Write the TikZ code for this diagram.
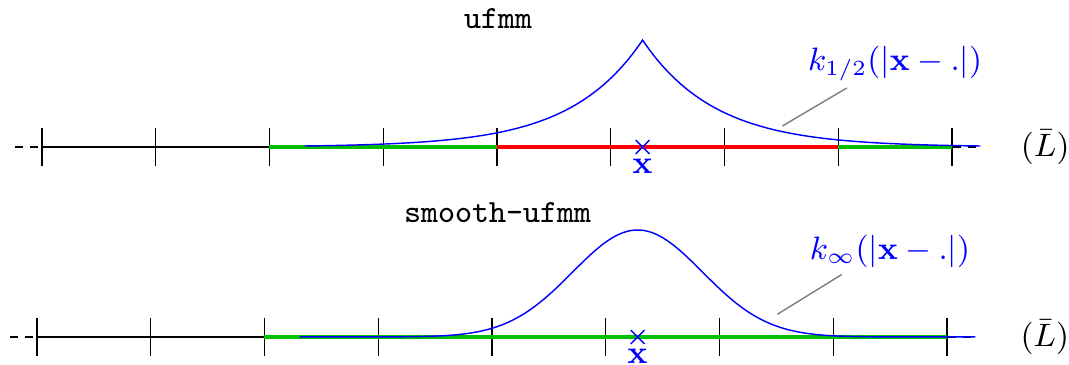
\documentclass[tikz,border=0pt]{standalone}
\usetikzlibrary{positioning,shapes.misc}

\definecolor{suppgreen}{RGB}{0,190,0}

\begin{document}
\begin{tikzpicture}[
      x=1.11cm, y=1.11cm,
      every node/.style={font=\small},
      axisline/.style={thin},
      axisdash/.style={thin, dash pattern=on 2.2pt off 2pt},
      tickmark/.style={thin},
      greenseg/.style={line width=1.2pt, suppgreen},
      redseg/.style={line width=1.2pt, red},
      kernel/.style={blue, thin},
      pinline/.style={gray, thin},
      point/.style={cross out, draw=blue, thin, minimum size=1.2mm, inner sep=0pt},
      pointlabel/.style={blue, inner sep=1pt},
      title/.style={font=\small\ttfamily},
      klabel/.style={blue}
]
\useasboundingbox (-0.369,-1.9165) rectangle (9.029,1.2923);

% ufmm
\coordinate (axstart) at (-0.237,0);
\coordinate (axend) at (8.25,0);
\draw[axisdash] (axstart) -- (axend);
\draw[axisline] (0,0) -- (8,0);
\foreach \i in {0,...,8}
  \draw[tickmark] (\i,-0.167) -- (\i,0.167);
\draw[greenseg] (2,0) -- (4,0);
\draw[redseg] (4,0) -- (7,0);
\draw[greenseg] (7,0) -- (8,0);
\draw[kernel] plot[domain=2.31:8.25, samples=241] (\x,{0.94*exp(-1.58*abs(\x-5.28))});
\node[point] (xtop) at (5.28,0) {};
\node[pointlabel, below=0.3pt of xtop] (xtoplab) {$\mathbf{x}$};
\node[title] (ufmm) at (4.01,1.13) {ufmm};
\node[klabel] (ktop) at (7.5,0.73) {$k_{1/2}(|\mathbf{x}-.|)$};
\coordinate (ktoppin) at (6.51,0.185);
\draw[pinline] ([xshift=-4.7mm, yshift=0.6mm]ktop.south) -- (ktoppin);
\node (ltop) at (8.82,0) {$(\bar{L})$};

% smooth-ufmm
\begin{scope}[shift={(-0.044,-1.670)}]
\coordinate (bxstart) at (-0.237,0);
\coordinate (bxend) at (8.25,0);
\draw[axisdash] (bxstart) -- (bxend);
\draw[axisline] (0,0) -- (8,0);
\foreach \i in {0,...,8}
  \draw[tickmark] (\i,-0.167) -- (\i,0.167);
\draw[greenseg] (2,0) -- (8,0);
\draw[kernel] plot[domain=2.31:8.25, samples=241] (\x,{0.94*exp(-(\x-5.28)^2/(2*0.571^2))});
\node[point] (xbot) at (5.28,0) {};
\node[pointlabel, below=0.3pt of xbot] (xbotlab) {$\mathbf{x}$};
\node[title] (smooth) at (4.05,1.09) {smooth-ufmm};
\node[klabel] (kbot) at (7.5,0.75) {$k_{\infty}(|\mathbf{x}-.|)$};
\coordinate (kbotpin) at (6.51,0.20);
\draw[pinline] ([xshift=-4.7mm, yshift=0.6mm]kbot.south) -- (kbotpin);
\node (lbot) at (8.86,0) {$(\bar{L})$};
\end{scope}
\end{tikzpicture}
\end{document}
